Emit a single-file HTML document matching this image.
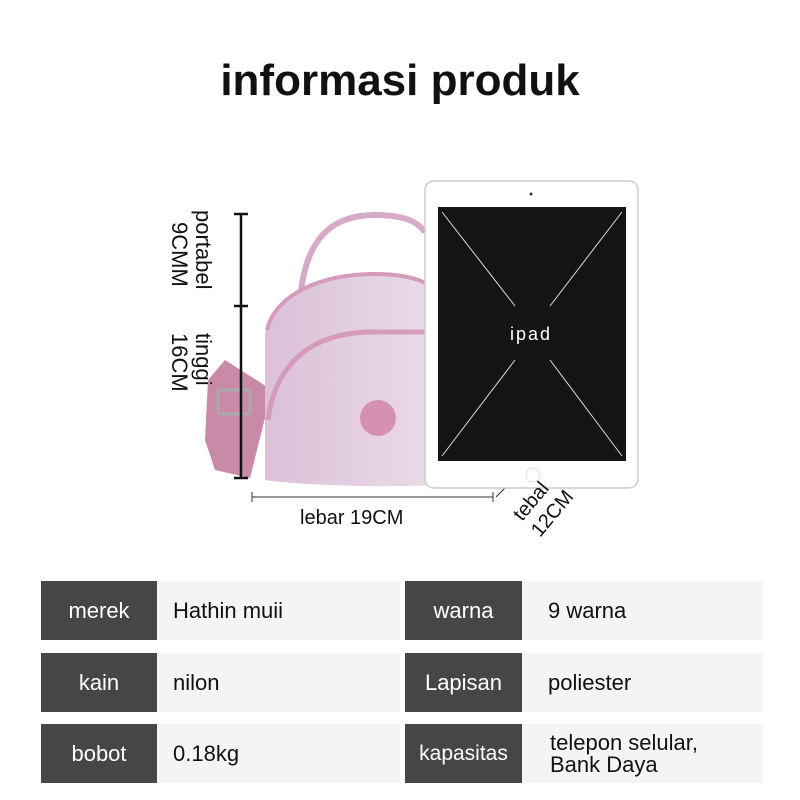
<!DOCTYPE html><html><head><style>
body{margin:0;width:800px;height:800px;background:#fff;position:relative;overflow:hidden;font-family:"Liberation Sans",sans-serif}
.t{position:absolute;left:0;width:800px;top:56px;text-align:center;font-size:44px;font-weight:bold;color:#111}
.c{position:absolute;height:59px;display:flex;align-items:center;font-size:22px}
.d{background:#464646;color:#fff;justify-content:center}
.l{background:#f4f4f4;color:#111;padding-left:16px;box-sizing:border-box}
</style></head><body>
<div class="t">informasi produk</div>
<svg width="800" height="560" style="position:absolute;left:0;top:0">
<defs><linearGradient id="g" x1="0" x2="1"><stop offset="0" stop-color="#dcc0d8"/><stop offset="1" stop-color="#eadbe8"/></linearGradient></defs>
<path d="M300 300 C305 240 330 215 375 215 C405 215 418 222 425 232" fill="none" stroke="#d6abc7" stroke-width="6"/>
<path d="M208 380 L225 360 L272 390 L262 430 L250 478 L215 470 L205 440 Z" fill="#c88aa7"/>
<path d="M265 480 L265 335 C272 295 320 272 375 272 C405 272 425 280 435 290 L435 485 C380 488 300 485 265 480 Z" fill="url(#g)"/>
<path d="M267 330 C275 295 320 274 375 274 C405 274 425 280 435 290" fill="none" stroke="#d49bbb" stroke-width="4"/>
<path d="M268 420 C275 365 310 333 370 332 L435 332" fill="none" stroke="#d49bbb" stroke-width="5"/>
<circle cx="378" cy="418" r="18" fill="#d591b2"/>
<rect x="218" y="390" width="32" height="24" rx="3" fill="none" stroke="#aaa" stroke-width="3"/>
<g stroke="#111" stroke-width="2.5"><line x1="241" y1="214" x2="241" y2="478"/><line x1="234" y1="214" x2="248" y2="214"/><line x1="234" y1="306" x2="248" y2="306"/><line x1="234" y1="478" x2="248" y2="478"/></g>
<g stroke="#333" stroke-width="1"><line x1="252" y1="497" x2="493" y2="497"/><line x1="252" y1="492" x2="252" y2="502"/><line x1="493" y1="492" x2="493" y2="502"/><line x1="496" y1="497" x2="533" y2="460"/></g>
<rect x="425" y="181" width="213" height="307" rx="9" fill="#fff" stroke="#ccc" stroke-width="1.5"/>
<rect x="438" y="207" width="188" height="254" fill="#141414"/>
<g stroke="#ddd" stroke-width="1"><line x1="442" y1="212" x2="515" y2="306"/><line x1="622" y1="212" x2="550" y2="306"/><line x1="442" y1="456" x2="515" y2="360"/><line x1="622" y1="456" x2="550" y2="360"/></g>
<circle cx="531" cy="194" r="1.5" fill="#333"/><circle cx="533" cy="475" r="7" fill="#fff" stroke="#ddd"/>
<text x="531" y="340" fill="#fff" font-size="18" text-anchor="middle" letter-spacing="2">ipad</text>
<text transform="translate(196,210) rotate(90)" font-size="22" fill="#111">portabel</text>
<text transform="translate(172,222) rotate(90)" font-size="22" fill="#111">9CMM</text>
<text transform="translate(196,333) rotate(90)" font-size="22" fill="#111">tinggi</text>
<text transform="translate(172,333) rotate(90)" font-size="22" fill="#111">16CM</text>
<text x="300" y="524" font-size="20" fill="#111">lebar 19CM</text>
<text transform="translate(522,522) rotate(-50)" font-size="20" fill="#111">tebal</text>
<text transform="translate(540,538) rotate(-50)" font-size="20" fill="#111">12CM</text>
</svg>
<div class="c d" style="left:41px;top:581px;width:116px">merek</div><div class="c l" style="left:157px;top:581px;width:243px">Hathin muii</div>
<div class="c d" style="left:405px;top:581px;width:117px">warna</div><div class="c l" style="left:522px;top:581px;width:241px;padding-left:26px">9 warna</div>
<div class="c d" style="left:41px;top:653px;width:116px">kain</div><div class="c l" style="left:157px;top:653px;width:243px">nilon</div>
<div class="c d" style="left:405px;top:653px;width:117px">Lapisan</div><div class="c l" style="left:522px;top:653px;width:241px;padding-left:26px">poliester</div>
<div class="c d" style="left:41px;top:724px;width:116px">bobot</div><div class="c l" style="left:157px;top:724px;width:243px">0.18kg</div>
<div class="c d" style="left:405px;top:724px;width:117px;font-size:21px">kapasitas</div><div class="c l" style="left:522px;top:724px;width:241px;padding-left:28px;line-height:22px">telepon selular,<br>Bank Daya</div>
</body></html>
